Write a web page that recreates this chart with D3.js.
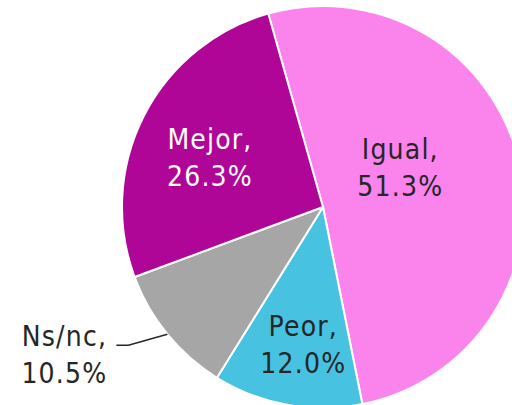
<!DOCTYPE html>
<html lang="es">
<head>
<meta charset="utf-8">
<title>Igual / Mejor / Peor</title>
<script src="https://d3js.org/d3.v7.min.js"></script>
<style>
body { margin: 0; background: #fff; }
svg { display: block; }
text { font-family: "DejaVu Sans Condensed", "DejaVu Sans", sans-serif; font-stretch: condensed; font-size: 28px; letter-spacing: 1.2px; }
</style>
</head>
<body>
<script>
// data, in drawing order (clockwise)
var categories = ["Igual", "Peor", "Ns/nc", "Mejor"];
var values = [51.3, 12.0, 10.5, 26.3];
var colors = ["#fb83ec", "#47c2e0", "#a6a6a6", "#b00698"];
var textColors = ["#262626", "#262626", "#262626", "#ffffff"];

var width = 512, height = 405;
var cx = 323, cy = 207, radius = 201;
var startDeg = -15.8;

var svg = d3.select("body").append("svg")
    .attr("width", width)
    .attr("height", height);

var g = svg.append("g")
    .attr("transform", "translate(" + cx + "," + cy + ")");

var rad = function(d) { return d * Math.PI / 180; };

var pie = d3.pie()
    .sort(null)
    .value(function(d) { return d.value; })
    .startAngle(rad(startDeg))
    .endAngle(rad(startDeg + 360));

var data = categories.map(function(c, i) {
    return { name: c, value: values[i], color: colors[i], text: textColors[i] };
});

var arcs = pie(data);

var arc = d3.arc().innerRadius(0).outerRadius(radius);

g.selectAll("path")
    .data(arcs)
    .enter()
    .append("path")
    .attr("d", arc)
    .attr("fill", function(d) { return d.data.color; })
    .attr("stroke", "#fff")
    .attr("stroke-width", 2)
    .attr("stroke-linejoin", "round");

// label placement: radius factor + angle tweak (deg) per slice, Excel-ish best fit
var labelPos = {
    "Igual": { k: 0.43, da: -13, dy: -9 },
    "Mejor": { k: 0.62, da: -2, dy: -6 },
    "Peor":  { k: 0.68, da: -2, dy: -6 }
};

function polar(r, a) {
    return [Math.sin(a) * r, -Math.cos(a) * r];
}

arcs.forEach(function(d) {
    var mid = (d.startAngle + d.endAngle) / 2;
    var lbl = g.append("text")
        .attr("text-anchor", "middle")
        .attr("fill", d.data.text);
    var x, y;
    if (labelPos[d.data.name]) {
        var lp = labelPos[d.data.name];
        var p = polar(radius * lp.k, mid + rad(lp.da));
        x = p[0]; y = p[1] + lp.dy;
    } else {
        // outside label with leader line
        var p0 = polar(radius, mid);
        var p1 = [p0[0] - 39, p0[1] + 11];
        var p2 = [p1[0] - 12, p1[1]];
        g.append("polyline")
            .attr("points", [p0, p1, p2].map(function(p) { return p.join(","); }).join(" "))
            .attr("fill", "none")
            .attr("stroke", "#262626")
            .attr("stroke-width", 1.5);
        x = p2[0] - 52; y = p1[1] + 1;
    }
    lbl.append("tspan").attr("x", x).attr("y", y).text(d.data.name + ",");
    lbl.append("tspan").attr("x", x).attr("y", y + 37).text(d3.format(".1f")(d.data.value) + "%");
});
</script>
</body>
</html>
